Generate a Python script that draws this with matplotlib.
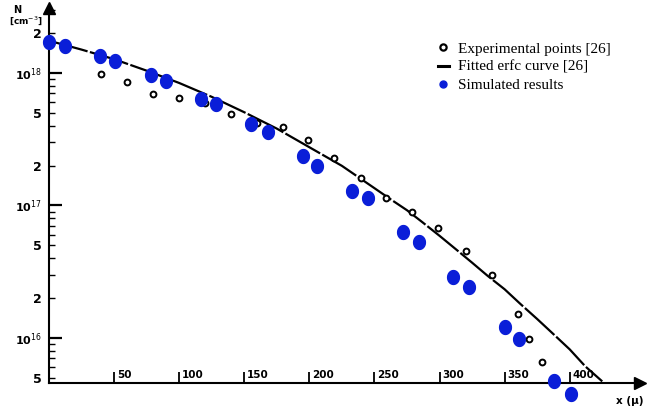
import numpy as np
import matplotlib
matplotlib.use('Agg')
import matplotlib.pyplot as plt
from matplotlib.path import Path
from matplotlib.lines import Line2D
from matplotlib.ticker import FixedLocator, FuncFormatter

# simulated results (blue dots)
sim_x = [0, 12, 39, 51, 78, 90, 117, 128, 155, 168, 195, 206,
         233, 245, 272, 284, 310, 323, 350, 361, 388, 401]
sim_n = [1.71e18, 1.61e18, 1.35e18, 1.23e18, 9.7e17, 8.75e17, 6.4e17, 5.8e17,
         4.1e17, 3.6e17, 2.37e17, 2.0e17, 1.29e17, 1.13e17, 6.3e16, 5.3e16,
         2.87e16, 2.43e16, 1.22e16, 9.9e15, 4.7e15, 3.8e15]

# experimental points [26]
exp_x = [40, 60, 80, 100, 120, 140, 160, 180, 199, 219, 240, 259,
         279, 299, 320, 340, 360, 369, 379]
exp_n = [9.8e17, 8.5e17, 6.9e17, 6.5e17, 5.9e17, 4.9e17, 4.2e17, 3.9e17,
         3.1e17, 2.3e17, 1.6e17, 1.13e17, 9.0e16, 6.7e16, 4.5e16, 3.0e16,
         1.52e16, 9.8e15, 6.6e15]

# fitted erfc curve [26]
fit_x = [0, 25, 50, 75, 100, 125, 150, 175, 200, 225, 250, 262, 275, 287,
         300, 312, 325, 337, 350, 362, 375, 387, 400, 412, 425]
fit_n = [1.75e18, 1.5e18, 1.27e18, 1.04e18, 8.4e17, 6.6e17, 5.05e17, 3.8e17,
         2.75e17, 1.99e17, 1.35e17, 1.12e17, 9.2e16, 7.45e16, 5.9e16, 4.72e16,
         3.7e16, 2.94e16, 2.33e16, 1.81e16, 1.39e16, 1.08e16, 8.2e15, 6.1e15, 4.7e15]

x_ticks = [50, 100, 150, 200, 250, 300, 350, 400]

blue = '#0a1ed8'

# slightly tall ellipse for the simulated points
t = np.linspace(0, 2 * np.pi, 41)
ell = Path(np.column_stack([0.85 * np.cos(t), np.sin(t)]), closed=True)

fig = plt.figure(figsize=(6.48, 4.12), dpi=100)
ax = fig.add_axes([49 / 648, 29 / 412, 591 / 648, 375 / 412])

ax.set_yscale('log')
ax.set_xlim(0, 454)
ax.set_ylim(10 ** 15.66, 10 ** 18.49)

ax.plot(fit_x, fit_n, color='k', lw=1.6, dashes=(18, 1.1), clip_on=False, zorder=2)
ax.plot(exp_x, exp_n, 'o', ms=4.2, mfc='white', mec='k', mew=1.4, clip_on=False, zorder=3)
ax.plot(sim_x, sim_n, ls='none', marker=ell, ms=10, color=blue, mec=blue,
        clip_on=False, zorder=4)

# axes with arrows
for s in ['top', 'right']:
    ax.spines[s].set_visible(False)
for s in ['left', 'bottom']:
    ax.spines[s].set_linewidth(1.5)
ax.plot(0, 1, '^k', ms=8, transform=ax.transAxes, clip_on=False)
ax.plot(1, 0, '>k', ms=8, transform=ax.transAxes, clip_on=False)

# y ticks
ax.yaxis.set_major_locator(FixedLocator([1e16, 1e17, 1e18]))
ax.yaxis.set_major_formatter(FuncFormatter(lambda v, p: r'10$^{%d}$' % round(np.log10(v))))
minors = [m * 10.0 ** e for e in (15, 16, 17, 18) for m in range(2, 10)]
ax.yaxis.set_minor_locator(FixedLocator(minors))


def minor_lab(v, p):
    m = v / 10 ** np.floor(np.log10(v) + 1e-9)
    if abs(m - 2) < 0.01 or abs(m - 5) < 0.01:
        return '%d' % round(m)
    return ''


ax.yaxis.set_minor_formatter(FuncFormatter(minor_lab))
ax.tick_params(axis='y', which='major', direction='in', length=9, width=1.6, pad=5, labelsize=8)
ax.tick_params(axis='y', which='minor', direction='in', length=4, width=1.0, pad=5, labelsize=9)
for lab in ax.get_yticklabels(which='both'):
    lab.set_fontweight('bold')

# x ticks, labels sit to the right of each tick
ax.set_xticks(x_ticks)
ax.tick_params(axis='x', direction='in', length=8, width=1.3, labelbottom=False)
for v in x_ticks:
    ax.annotate(str(v), xy=(v, 0), xycoords=('data', 'axes fraction'),
                xytext=(2, 2), textcoords='offset points',
                ha='left', va='bottom', fontsize=7.5, fontweight='bold')

fig.text(17 / 648, 1 - 10 / 412, 'N', ha='center', va='center', fontsize=7, fontweight='bold')
fig.text(26 / 648, 1 - 21 / 412, '[cm$^{-3}$]', ha='center', va='center', fontsize=6.5, fontweight='bold')
fig.text(630 / 648, 1 - 401 / 412, 'x (µ)', ha='center', va='center', fontsize=7.5, fontweight='bold')

handles = [
    Line2D([], [], ls='none', marker='o', ms=4.5, mfc='white', mec='k', mew=1.6),
    Line2D([], [], color='k', lw=2.2),
    Line2D([], [], ls='none', marker='o', ms=5, color=blue),
]
labels = ['Experimental points [26]', 'Fitted erfc curve [26]', 'Simulated results']
ax.legend(handles, labels, loc='upper left', bbox_to_anchor=(438 / 648, 1 - 42 / 412),
          bbox_transform=fig.transFigure, frameon=False,
          prop={'family': 'Liberation Serif', 'size': 11},
          handlelength=0.7, handletextpad=0.6, labelspacing=0.3,
          borderpad=0, borderaxespad=0)

fig.savefig('out.png', dpi=100)
